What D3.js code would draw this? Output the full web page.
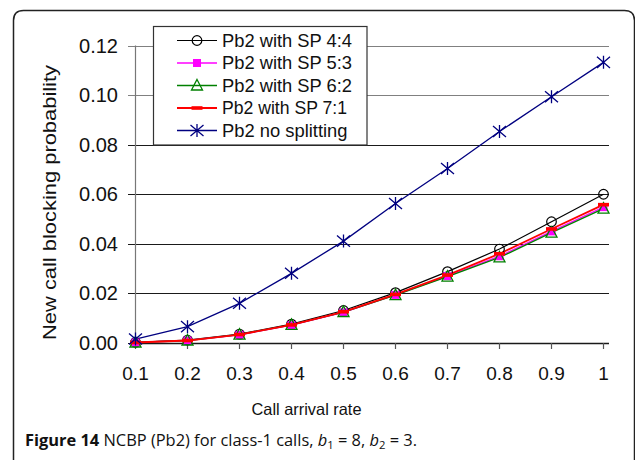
<!DOCTYPE html>
<html><head><meta charset="utf-8">
<script src="https://cdn.jsdelivr.net/npm/d3@7"></script>
<style>body{margin:0;background:#fff}svg{display:block}</style>
</head><body>
<script>
const rates = [0.1,0.2,0.3,0.4,0.5,0.6,0.7,0.8,0.9,1.0];
const sp44 = [0.0003,0.0012,0.0036,0.0076,0.0131,0.0203,0.0288,0.0379,0.0489,0.0600];
const sp53 = [0.0002,0.0010,0.0033,0.0072,0.0124,0.0194,0.0270,0.0350,0.0450,0.0548];
const sp62 = [0.0002,0.0010,0.0034,0.0073,0.0125,0.0193,0.0268,0.0345,0.0445,0.0542];
const sp71 = [0.0002,0.0010,0.0034,0.0073,0.0126,0.0196,0.0274,0.0360,0.0460,0.0558];
const noSplit = [0.0016,0.0066,0.0160,0.0281,0.0411,0.0563,0.0704,0.0853,0.0993,0.1132];
const yTicks = [0,0.02,0.04,0.06,0.08,0.10,0.12];
const xTickLabels = ["0.1","0.2","0.3","0.4","0.5","0.6","0.7","0.8","0.9","1"];
const seriesNames = ["Pb2 with SP 4:4","Pb2 with SP 5:3","Pb2 with SP 6:2","Pb2 with SP 7:1","Pb2 no splitting"];

const font=`"Liberation Sans", Arial, sans-serif`;

const W=635,H=460;
const svg=d3.select("body").append("svg").attr("width",W).attr("height",H);

svg.append("path").attr("d","M13.5,470 L13.5,20.5 Q13.5,10.5 23.5,10.5 L624.5,10.5 Q634.5,10.5 634.5,20.5 L634.5,470")
  .attr("fill","none").attr("stroke","#222").attr("stroke-width",1.5);

const x=d3.scaleLinear().domain([0.1,1]).range([135.5,603.5]);
const y=d3.scaleLinear().domain([0,0.12]).range([343,45.5]);
const plotRight=609;

yTicks.forEach(t=>{
  const g = t>=0.095 ? "#808080" : "#1a1a1a";
  svg.append("line").attr("x1",128).attr("x2",plotRight).attr("y1",Math.round(y(t))+0.5).attr("y2",Math.round(y(t))+0.5)
    .attr("stroke",g).attr("stroke-width",1.2);
});
svg.append("line").attr("x1",135.5).attr("x2",135.5).attr("y1",y(0.12)).attr("y2",y(0)).attr("stroke","#777").attr("stroke-width",1.2);
svg.append("line").attr("x1",135).attr("x2",plotRight).attr("y1",Math.round(y(0))+0.5).attr("y2",Math.round(y(0))+0.5).attr("stroke","#1a1a1a").attr("stroke-width",1.3);
rates.forEach(r=>{
  svg.append("line").attr("x1",x(r)).attr("x2",x(r)).attr("y1",y(0)).attr("y2",y(0)+6).attr("stroke","#555").attr("stroke-width",1.2);
});
svg.append("g").selectAll("text").data(yTicks).join("text")
  .attr("x",118).attr("y",d=>y(d)+7).attr("text-anchor","end")
  .attr("font-family",font).attr("font-size",19.5).attr("fill","#111")
  .attr("textLength",39).attr("lengthAdjust","spacingAndGlyphs")
  .text(d=>d3.format(".2f")(d));
svg.append("g").selectAll("text").data(rates).join("text")
  .attr("x",d=>x(d)).attr("y",380).attr("text-anchor","middle")
  .attr("font-family",font).attr("font-size",19).attr("fill","#111")
  .text((d,i)=>xTickLabels[i]);
svg.append("text").attr("x",306.5).attr("y",415).attr("text-anchor","middle")
  .attr("font-family",font).attr("font-size",16.5).attr("fill","#111")
  .attr("textLength",110).attr("lengthAdjust","spacingAndGlyphs").text("Call arrival rate");
svg.append("text").attr("transform","translate(56,202.5) rotate(-90)").attr("text-anchor","middle")
  .attr("font-family",font).attr("font-size",19).attr("fill","#111")
  .attr("textLength",275).attr("lengthAdjust","spacingAndGlyphs")
  .text("New call blocking probability");

function drawMarker(g,type,cx,cy,color){
  if(type==="circle"){
    g.append("circle").attr("cx",cx).attr("cy",cy).attr("r",4.8).attr("fill","none").attr("stroke",color).attr("stroke-width",1.2);
  } else if(type==="square"){
    g.append("rect").attr("x",cx-4).attr("y",cy-4).attr("width",8).attr("height",8).attr("fill",color);
  } else if(type==="triangle"){
    g.append("path").attr("d",`M${cx},${cy-6} L${cx+5.5},${cy+4.5} L${cx-5.5},${cy+4.5} Z`).attr("fill","none").attr("stroke",color).attr("stroke-width",1.3);
  } else if(type==="dash"){
    g.append("rect").attr("x",cx-5.5).attr("y",cy-1.8).attr("width",11).attr("height",3.6).attr("fill",color);
  } else if(type==="star"){
    const s=6.5;
    g.append("path").attr("d",`M${cx-s},${cy-s*0.85} L${cx+s},${cy+s*0.85} M${cx-s},${cy+s*0.85} L${cx+s},${cy-s*0.85} M${cx},${cy-s} L${cx},${cy+s}`)
      .attr("stroke",color).attr("stroke-width",1.3).attr("fill","none");
  }
}

const series=[
  {vals:sp44,color:"#000000",marker:"circle",w:1.2},
  {vals:sp53,color:"#ff00ff",marker:"square",w:1.3},
  {vals:sp62,color:"#008000",marker:"triangle",w:1.3},
  {vals:sp71,color:"#ff0000",marker:"dash",w:1.8},
  {vals:noSplit,color:"#000080",marker:"star",w:1.3}
];
const line=d3.line().x(d=>x(d[0])).y(d=>y(d[1]));
series.forEach(s=>{
  const pts=rates.map((r,i)=>[r,s.vals[i]]);
  svg.append("path").attr("d",line(pts)).attr("fill","none").attr("stroke",s.color).attr("stroke-width",s.w);
});
series.forEach(s=>{
  const g=svg.append("g");
  rates.forEach((r,i)=>drawMarker(g,s.marker,x(r),y(s.vals[i]),s.color));
});

const lg=svg.append("g");
lg.append("rect").attr("x",153.5).attr("y",26.5).attr("width",213.5).attr("height",118.5).attr("fill","#fff").attr("stroke","#333").attr("stroke-width",1.2);
const rowY=[40.5,63,85.5,108,130.5];
const legW=[130,130,130,125,125.5];
series.forEach((s,i)=>{
  lg.append("line").attr("x1",177).attr("x2",217).attr("y1",rowY[i]).attr("y2",rowY[i]).attr("stroke",s.color).attr("stroke-width",s.w);
  drawMarker(lg,s.marker,197,rowY[i],s.color);
  lg.append("text").attr("x",222).attr("y",rowY[i]+6.3).attr("font-family",font).attr("font-size",17.5).attr("fill","#111")
    .attr("textLength",legW[i]).attr("lengthAdjust","spacingAndGlyphs").text(seriesNames[i]);
});

const cap=svg.append("text").attr("x",25).attr("y",445.5).attr("font-family","'Open Sans','Noto Sans',sans-serif").attr("font-size",16).attr("fill","#111")
  .attr("textLength",392).attr("lengthAdjust","spacingAndGlyphs");
cap.append("tspan").attr("font-weight","bold").text("Figure 14");
cap.append("tspan").text(" NCBP (Pb2) for class-1 calls, ");
cap.append("tspan").attr("font-style","italic").text("b");
cap.append("tspan").attr("font-size",11).attr("dy",3).text("1");
cap.append("tspan").attr("dy",-3).text(" = 8, ");
cap.append("tspan").attr("font-style","italic").text("b");
cap.append("tspan").attr("font-size",11).attr("dy",3).text("2");
cap.append("tspan").attr("dy",-3).text(" = 3.");
</script>
</body></html>
